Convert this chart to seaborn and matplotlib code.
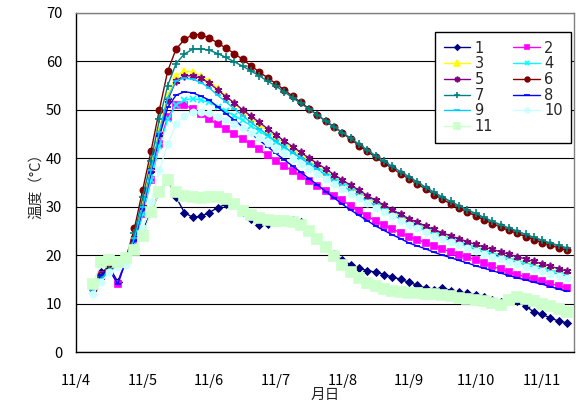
import numpy as np
import pandas as pd
import matplotlib
matplotlib.use('Agg')
import matplotlib.pyplot as plt
import seaborn as sns

# 経過日数 (11/4 0:00 起点, 3時間ごと)
days = 0.25 + 0.125 * np.arange(58)
day_labels = ['11/4', '11/5', '11/6', '11/7', '11/8', '11/9', '11/10', '11/11']

# 各測点の温度 (℃)
t1 = [13, 16.5, 17.5, 14.5, 19, 21.5, 25, 29, 33, 35.5,
      32, 28.8, 27.8, 28, 28.8, 29.8, 30.5, 30.8, 29, 27.5,
      26.3, 26.5, 27, 27.2, 27.2, 26.8, 25.2, 23.5, 21.8, 20.2,
      19, 18, 17.3, 16.8, 16.5, 16, 15.5, 15, 14.4, 13.8,
      13.2, 12.9, 13.3, 12.7, 12.3, 12.1, 11.8, 11.3, 10.8, 10.3,
      11.0, 10.6, 9.5, 8.3, 7.8, 7.0, 6.4, 6.0]
t2 = [13.5, 16, 17, 14, 19, 22.5, 28.5, 35.5, 43, 48.5,
      51, 51, 50.2, 49.2, 48.0, 47.0, 46.0, 45.0, 44.0, 42.9,
      41.8, 40.6, 39.5, 38.4, 37.4, 36.3, 35.3, 34.3, 33.3, 32.3,
      31.3, 30.2, 29.1, 28.1, 27.0, 26.2, 25.4, 24.6, 23.8, 23.2,
      22.6, 21.9, 21.3, 20.7, 20.1, 19.6, 19.0, 18.4, 17.7, 17.1,
      16.5, 16.0, 15.5, 15.1, 14.6, 14.1, 13.7, 13.2]
t3 = [13, 15.5, 17.5, 18.5, 19.5, 24, 31, 38.5, 46, 53,
      57, 58, 57.8, 57, 56.0, 54.4, 52.8, 51.3, 49.8, 48.4,
      47.0, 45.6, 44.3, 43.1, 41.9, 40.7, 39.5, 38.4, 37.2, 36.1,
      35.0, 33.9, 32.9, 31.8, 30.8, 29.8, 28.9, 27.9, 27.0, 26.2,
      25.5, 24.7, 24.0, 23.4, 22.8, 22.2, 21.6, 21.1, 20.5, 20.0,
      19.5, 19.0, 18.5, 18.0, 17.5, 17.0, 16.6, 16.1]
t4 = [12.5, 15, 17, 18, 18.5, 22.5, 28.5, 35.5, 42.5, 48,
      51, 52, 52.3, 52, 51.5, 50.6, 49.7, 48.8, 47.8, 46.7,
      45.6, 44.5, 43.4, 42.3, 41.3, 40.2, 39.2, 38.1, 37.1, 36.0,
      35.0, 34.0, 33.0, 32.0, 31.0, 30.1, 29.1, 28.2, 27.3, 26.5,
      25.7, 25.0, 24.2, 23.5, 22.9, 22.2, 21.6, 21.0, 20.5, 19.9,
      19.4, 18.9, 18.4, 17.9, 17.4, 16.9, 16.5, 16.0]
t5 = [13, 15.5, 17, 18, 19, 23.5, 30, 37.5, 45, 52,
      56, 57, 57, 56.5, 55.5, 54.1, 52.7, 51.4, 50.0, 48.7,
      47.4, 46.1, 44.8, 43.6, 42.4, 41.2, 40.0, 38.9, 37.8, 36.6,
      35.5, 34.4, 33.4, 32.3, 31.3, 30.3, 29.4, 28.4, 27.5, 26.8,
      26.0, 25.3, 24.6, 24.0, 23.4, 22.8, 22.2, 21.7, 21.2, 20.7,
      20.2, 19.7, 19.2, 18.7, 18.2, 17.7, 17.2, 16.7]
t6 = [13.5, 16, 17.5, 18.5, 19.5, 25.5, 33.5, 41.5, 50, 58,
      62.5, 64.5, 65.5, 65.5, 64.8, 63.8, 62.7, 61.6, 60.4, 59.1,
      57.8, 56.6, 55.4, 54.1, 52.8, 51.5, 50.2, 48.9, 47.6, 46.4,
      45.2, 43.9, 42.6, 41.4, 40.2, 39.0, 37.9, 36.8, 35.8, 34.7,
      33.6, 32.5, 31.5, 30.6, 29.7, 28.9, 28.1, 27.3, 26.5, 25.8,
      25.1, 24.5, 23.8, 23.2, 22.6, 22.0, 21.5, 21.0]
t7 = [13, 15.5, 17, 18, 19, 24.5, 32, 39.5, 48, 55,
      59.5, 61.5, 62.5, 62.6, 62.3, 61.6, 60.8, 59.9, 59.0, 58.0,
      57.0, 55.9, 54.9, 53.7, 52.5, 51.3, 50.1, 48.9, 47.7, 46.5,
      45.3, 44.1, 42.9, 41.7, 40.5, 39.4, 38.3, 37.2, 36.2, 35.1,
      34.0, 33.0, 32.0, 31.1, 30.2, 29.4, 28.6, 27.8, 27.0, 26.3,
      25.6, 25.0, 24.3, 23.7, 23.1, 22.5, 22.0, 21.5]
t8 = [13, 16, 17, 14, 19, 23, 29.5, 37, 44.5, 50.5,
      53, 53.7, 53.5, 52.8, 52.0, 50.6, 49.2, 47.9, 46.5, 45.1,
      43.7, 42.4, 41.0, 39.7, 38.4, 37.1, 35.8, 34.5, 33.1, 31.8,
      30.5, 29.3, 28.2, 27.1, 26.0, 25.1, 24.2, 23.4, 22.5, 21.9,
      21.3, 20.6, 20.0, 19.5, 18.9, 18.4, 17.8, 17.3, 16.8, 16.3,
      15.8, 15.3, 14.9, 14.4, 14.0, 13.5, 13.0, 12.5]
t9 = [12.5, 15, 17, 18.5, 19, 23.5, 30, 37.5, 45.5, 52.5,
      56, 56.5, 56.3, 55.6, 54.5, 53.0, 51.6, 50.2, 48.8, 47.4,
      46.1, 44.8, 43.5, 42.3, 41.1, 40.0, 38.8, 37.7, 36.5, 35.4,
      34.3, 33.3, 32.2, 31.2, 30.2, 29.3, 28.3, 27.4, 26.5, 25.8,
      25.1, 24.3, 23.6, 23.0, 22.4, 21.8, 21.2, 20.6, 20.1, 19.5,
      19.0, 18.5, 18.0, 17.5, 17.0, 16.5, 16.1, 15.6]
t10 = [12, 14.5, 16.5, 17.5, 18, 21, 25.5, 31, 37.5, 43,
       47, 48.8, 49.5, 49.6, 49.3, 48.6, 47.8, 47.0, 46.2, 45.2,
       44.1, 43.1, 42.0, 41.0, 39.9, 38.9, 37.8, 36.7, 35.7, 34.6,
       33.6, 32.6, 31.7, 30.7, 29.8, 28.9, 28.0, 27.1, 26.2, 25.5,
       24.8, 24.0, 23.3, 22.7, 22.0, 21.4, 20.8, 20.3, 19.7, 19.2,
       18.6, 18.1, 17.6, 17.2, 16.7, 16.2, 15.8, 15.3]
t11 = [14, 18.5, 19, 18.5, 19.5, 21, 24, 29, 33, 35.5,
       33, 32.2, 32, 31.8, 32, 31.9, 31.6, 30.6, 29.2, 28.2,
       27.6, 27.2, 27.1, 27.0, 26.8, 26.2, 25.0, 23.4, 21.6, 19.8,
       18.0, 16.5, 15.3, 14.3, 13.6, 13.0, 12.6, 12.3, 12.2, 12.1,
       12.0, 11.9, 11.8, 11.5, 11.2, 11.0, 10.8, 10.5, 10.2, 9.8,
       10.8, 11.4, 11.0, 10.5, 10.0, 9.5, 8.8, 8.3]

series = [t1, t2, t3, t4, t5, t6, t7, t8, t9, t10, t11]
names = [str(i) for i in range(1, 12)]
colors = ['#000080', '#FF00FF', '#FFFF00', '#00FFFF', '#800080', '#800000',
          '#008080', '#0000FF', '#00CCFF', '#CCFFFF', '#CCFFCC']
markers = ['D', 's', '^', 'x', (6, 2, 0), 'o', '+', '_', '_', 'o', 's']
msizes = [3.5, 4, 5, 4.5, 5.5, 4.5, 6, 5, 5, 4.5, 6.5]

sns.set_style('white')
plt.rcParams['font.family'] = ['Noto Sans CJK JP', 'DejaVu Sans']

fig, ax = plt.subplots(figsize=(5.77, 4.01), dpi=100)
fig.subplots_adjust(left=0.132, right=0.995, bottom=0.122, top=0.968)

for name, vals, c, m, ms in zip(names, series, colors, markers, msizes):
    sns.lineplot(x=days, y=vals, color=c, marker=m, markersize=ms,
                 markeredgecolor=c, markeredgewidth=1.2, linewidth=1,
                 label=name, ax=ax)

ax.set_xlim(0, 7.48)
ax.set_ylim(0, 70)
ax.set_xticks(range(8))
ax.set_xticklabels(day_labels)
ax.set_yticks(range(0, 71, 10))
ax.tick_params(axis='both', direction='in', length=4, width=0.8, labelsize=10.5, colors='black')
ax.tick_params(axis='x', pad=16)
ax.tick_params(axis='y', pad=10)
ax.yaxis.grid(True, color='black', linewidth=0.8)
ax.set_axisbelow(True)
for s in ['top', 'right']:
    ax.spines[s].set_color('#808080')
for s in ['left', 'bottom']:
    ax.spines[s].set_color('black')
for s in ax.spines.values():
    s.set_linewidth(1)

ax.set_xlabel('月日', fontsize=10.5, labelpad=0)
ax.set_ylabel('温度（°C）', fontsize=10.5, labelpad=2)

handles, labels = ax.get_legend_handles_labels()
order = [0, 2, 4, 6, 8, 10, 1, 3, 5, 7, 9]
leg = ax.legend([handles[i] for i in order], [labels[i] for i in order],
                ncol=2, loc='upper left', bbox_to_anchor=(0.721, 0.944),
                frameon=True, fancybox=False, edgecolor='black', framealpha=1,
                prop={'family': 'DejaVu Sans', 'size': 10.5},
                handlelength=1.8, columnspacing=1.4, markerscale=0.75,
                borderpad=0.6, labelspacing=0.05, handletextpad=0.3,
                borderaxespad=0)
leg.get_frame().set_linewidth(1)

fig.savefig('out.png', dpi=100)
